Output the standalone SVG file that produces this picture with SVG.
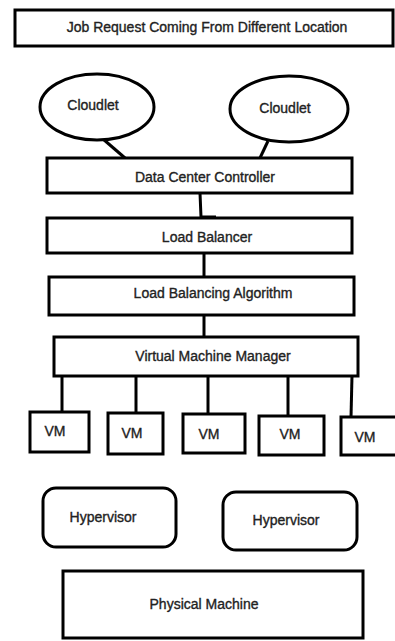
<svg xmlns="http://www.w3.org/2000/svg" width="395" height="641" viewBox="0 0 395 641">
<style>
.box{fill:#fff;stroke:#000;stroke-width:3}
.ln{fill:none;stroke:#000;stroke-width:3}
text{font-family:"Liberation Sans",Arial,sans-serif;font-size:14px;fill:#222;stroke:#222;stroke-width:0.35;text-anchor:middle}
</style>
<rect width="395" height="641" fill="#fff"/>
<g id="connectors">
<line class="ln" x1="103" y1="139" x2="125" y2="158"/>
<line class="ln" x1="268" y1="141" x2="260" y2="158"/>
<path class="ln" d="M200,193 L201,217 M200,217 L216,217"/>
<line class="ln" x1="204" y1="253" x2="204" y2="277"/>
<line class="ln" x1="204" y1="315" x2="204" y2="337"/>
<line class="ln" x1="62" y1="376" x2="62" y2="412"/>
<line class="ln" x1="136" y1="376" x2="136" y2="413"/>
<line class="ln" x1="208" y1="376" x2="208" y2="414"/>
<line class="ln" x1="288" y1="376" x2="288" y2="416"/>
<line class="ln" x1="352" y1="376" x2="351" y2="417"/>
</g>
<g id="job-request">
<rect class="box" x="15" y="10" width="378" height="36"/>
<text x="207" y="32">Job Request Coming From Different Location</text>
</g>
<g id="cloudlet1">
<ellipse class="box" cx="97" cy="107" rx="57" ry="33"/>
<text x="93" y="110">Cloudlet</text>
</g>
<g id="cloudlet2">
<ellipse class="box" cx="289" cy="109" rx="59" ry="33"/>
<text x="285" y="113">Cloudlet</text>
</g>
<g id="dcc">
<rect class="box" x="47" y="158" width="305" height="35"/>
<text x="205" y="182">Data Center Controller</text>
</g>
<g id="lb">
<rect class="box" x="47" y="218" width="305" height="35"/>
<text x="207" y="242">Load Balancer</text>
</g>
<g id="lba">
<rect class="box" x="49" y="277" width="305" height="38"/>
<text x="213" y="298">Load Balancing Algorithm</text>
</g>
<g id="vmm">
<rect class="box" x="54" y="337" width="304" height="39"/>
<text x="213" y="361">Virtual Machine Manager</text>
</g>
<g id="vm1">
<rect class="box" x="30" y="412" width="59" height="40"/>
<text x="55" y="436">VM</text>
</g>
<g id="vm2">
<rect class="box" x="108" y="413" width="55" height="41"/>
<text x="132" y="438">VM</text>
</g>
<g id="vm3">
<rect class="box" x="183" y="414" width="62" height="39"/>
<text x="209" y="439">VM</text>
</g>
<g id="vm4">
<rect class="box" x="259" y="416" width="65" height="39"/>
<text x="290" y="439">VM</text>
</g>
<g id="vm5">
<rect class="box" x="341" y="417" width="60" height="38"/>
<text x="365" y="442">VM</text>
</g>
<g id="hypervisor1">
<rect class="box" x="43" y="488" width="133" height="59" rx="13"/>
<text x="103" y="522">Hypervisor</text>
</g>
<g id="hypervisor2">
<rect class="box" x="223" y="492" width="134" height="58" rx="13"/>
<text x="286" y="525">Hypervisor</text>
</g>
<g id="physical">
<rect class="box" x="63" y="571" width="300" height="67"/>
<text x="204" y="609">Physical Machine</text>
</g>
</svg>
